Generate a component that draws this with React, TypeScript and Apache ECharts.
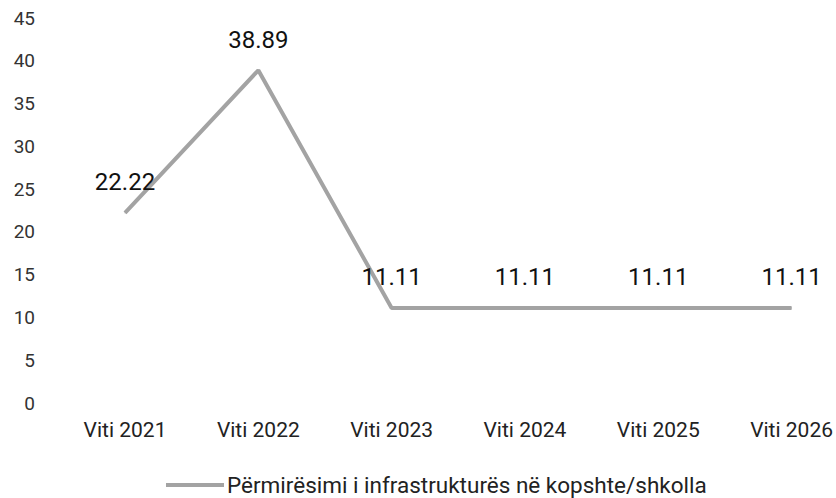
import React, { useEffect, useRef } from "react";
import * as echarts from "echarts";

const categories = ["Viti 2021", "Viti 2022", "Viti 2023", "Viti 2024", "Viti 2025", "Viti 2026"];
const values = [22.22, 38.89, 11.11, 11.11, 11.11, 11.11];
const yTicks = { min: 0, max: 45, interval: 5 };
const seriesName = "Përmirësimi i infrastrukturës në kopshte/shkolla";

export default function App() {
  const ref = useRef<HTMLDivElement>(null);
  useEffect(() => {
    if (!ref.current) return;
    const chart = echarts.init(ref.current, undefined, { renderer: "svg" });
    chart.setOption({
      animation: false,
      backgroundColor: "#ffffff",
      textStyle: { fontFamily: "Roboto" },
      grid: { left: 125, right: 44, top: 18, bottom: 95 },
      legend: {
        top: 473,
        left: 166,
        padding: 0,
        itemWidth: 58,
        itemHeight: 4,
        itemGap: 10,
        data: [{ name: seriesName, icon: "rect" }],
        textStyle: { fontSize: 22.5, lineHeight: 24, color: "#222", fontFamily: "Roboto", padding: [0, 0, 0, -2] },
      },
      xAxis: {
        type: "category",
        data: categories,
        boundaryGap: false,
        axisLine: { show: false },
        axisTick: { show: false },
        splitLine: { show: false },
        axisLabel: { fontSize: 21, color: "#222", margin: 16, fontFamily: "Roboto" },
      },
      yAxis: {
        type: "value",
        min: yTicks.min,
        max: yTicks.max,
        interval: yTicks.interval,
        axisLine: { show: false },
        axisTick: { show: false },
        splitLine: { show: false },
        axisLabel: { fontSize: 19, color: "#333", margin: 90, fontFamily: "Roboto" },
      },
      series: [
        {
          name: seriesName,
          type: "line",
          data: values,
          symbol: "circle",
          symbolSize: 1,
          showSymbol: true,
          color: "#a3a3a3",
          itemStyle: { color: "#a3a3a3" },
          lineStyle: { width: 4, color: "#a3a3a3" },
          label: {
            show: true,
            position: "top",
            distance: 18,
            fontSize: 24,
            color: "#111",
            fontFamily: "Roboto",
            formatter: (p: any) => Number(p.value).toFixed(2),
          },
        },
      ],
    });
    return () => chart.dispose();
  }, []);
  return (
    <div
      ref={ref}
      style={{ position: "fixed", left: 0, top: 0, width: 836, height: 498 }}
    />
  );
}
